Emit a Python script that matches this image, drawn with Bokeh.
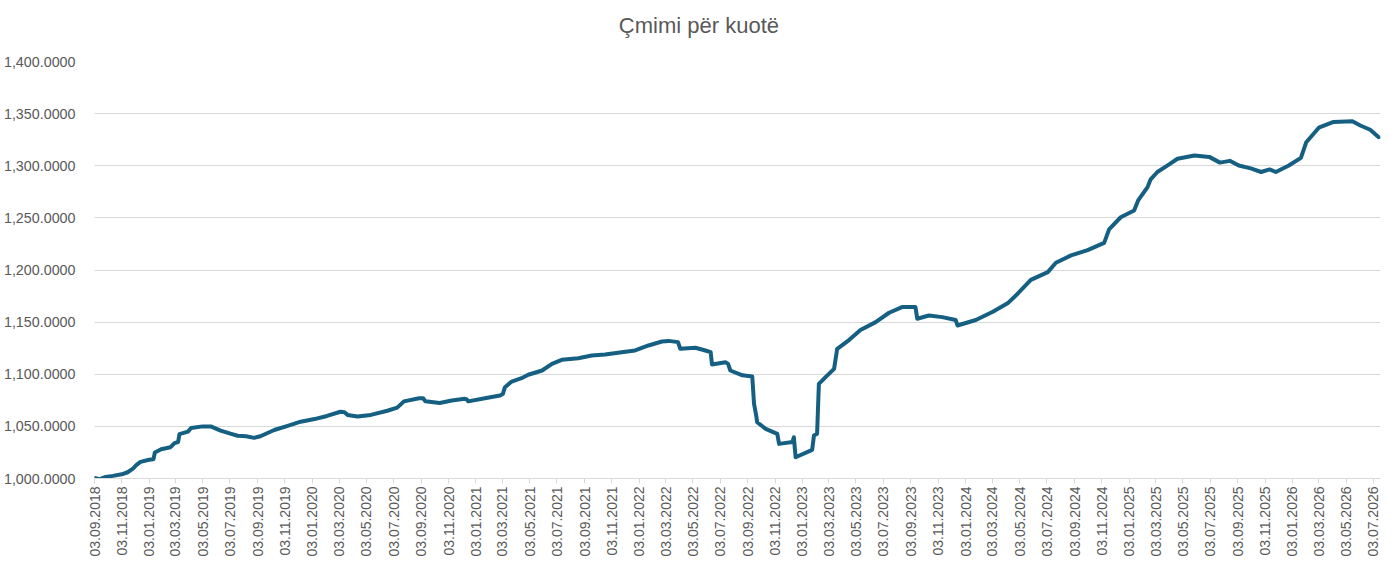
import pandas as pd
from math import pi
from bokeh.plotting import figure
from bokeh.layouts import column
from bokeh.models import FixedTicker, DatetimeTickFormatter, NumeralTickFormatter, Range1d, Label
from bokeh.embed import file_html
from bokeh.resources import INLINE

# ---- data ----
dates = [
    "2018-09-03", "2018-09-15", "2018-09-28", "2018-10-14", "2018-11-03", "2018-11-16",
    "2018-11-28", "2018-12-06", "2018-12-15", "2019-01-03", "2019-01-13", "2019-01-16",
    "2019-01-30", "2019-02-20", "2019-03-01", "2019-03-09", "2019-03-12", "2019-03-31",
    "2019-04-07", "2019-05-03", "2019-05-21", "2019-06-12", "2019-07-04", "2019-07-20",
    "2019-08-08", "2019-08-26", "2019-09-09", "2019-10-10", "2019-11-09", "2019-12-08",
    "2020-01-08", "2020-02-05", "2020-03-06", "2020-03-15", "2020-03-22", "2020-04-13",
    "2020-05-13", "2020-06-19", "2020-07-11", "2020-07-26", "2020-08-29", "2020-09-07",
    "2020-09-12", "2020-10-14", "2020-11-10", "2020-12-09", "2020-12-13", "2020-12-17",
    "2021-01-23", "2021-02-26", "2021-03-04", "2021-03-09", "2021-03-24", "2021-04-15",
    "2021-04-30", "2021-05-31", "2021-06-22", "2021-07-14", "2021-08-20", "2021-09-19",
    "2021-10-19", "2021-11-25", "2021-12-25", "2022-01-24", "2022-02-23", "2022-03-10",
    "2022-03-31", "2022-04-05", "2022-05-09", "2022-05-31", "2022-06-12", "2022-06-15",
    "2022-07-15", "2022-07-21", "2022-07-26", "2022-08-22", "2022-09-13", "2022-09-17",
    "2022-09-22", "2022-09-24", "2022-10-13", "2022-11-08", "2022-11-12", "2022-12-12",
    "2022-12-15", "2022-12-19", "2023-01-25", "2023-01-29", "2023-02-05", "2023-02-09",
    "2023-02-24", "2023-03-15", "2023-03-22", "2023-04-18", "2023-05-13", "2023-06-16",
    "2023-07-16", "2023-08-14", "2023-09-13", "2023-09-17", "2023-10-13", "2023-11-12",
    "2023-12-12", "2023-12-16", "2024-01-26", "2024-03-04", "2024-04-06", "2024-04-28",
    "2024-05-28", "2024-07-05", "2024-07-23", "2024-08-26", "2024-10-02", "2024-11-08",
    "2024-11-19", "2024-12-15", "2025-01-14", "2025-01-23", "2025-02-13", "2025-02-20",
    "2025-03-07", "2025-03-30", "2025-04-21", "2025-05-29", "2025-07-01", "2025-07-25",
    "2025-08-16", "2025-09-05", "2025-10-02", "2025-10-25", "2025-11-13", "2025-11-27",
    "2025-12-26", "2026-01-22", "2026-02-03", "2026-03-03", "2026-04-05", "2026-05-17",
    "2026-06-04", "2026-06-26", "2026-07-15",
]
prices = [
    1000.5, 999.3, 1001.5, 1002.5, 1004.0, 1006.0,
    1009.5, 1013.0, 1016.0, 1018.0, 1018.5, 1025.0,
    1028.0, 1030.0, 1034.0, 1035.0, 1042.5, 1045.0,
    1048.5, 1050.0, 1050.0, 1046.0, 1043.0, 1041.0,
    1040.5, 1039.0, 1040.5, 1046.5, 1050.5, 1054.5,
    1057.0, 1060.0, 1064.0, 1063.5, 1061.0, 1059.5,
    1061.0, 1065.0, 1068.0, 1074.0, 1077.0, 1077.0,
    1074.0, 1072.5, 1074.8, 1076.4, 1076.0, 1074.0,
    1077.0, 1079.6, 1081.0, 1087.6, 1093.0, 1096.2,
    1099.5, 1103.6, 1110.0, 1113.8, 1115.4, 1118.0,
    1119.0, 1121.2, 1122.8, 1127.6, 1131.4, 1132.0,
    1130.8, 1124.4, 1125.4, 1122.8, 1121.2, 1109.4,
    1111.6, 1110.0, 1103.6, 1099.0, 1097.8, 1071.6,
    1060.0, 1054.0, 1047.6, 1042.8, 1033.2, 1035.0,
    1039.6, 1020.4, 1027.5, 1041.2, 1042.9, 1090.8,
    1097.2, 1105.2, 1124.4, 1133.0, 1142.5, 1150.0,
    1159.0, 1164.4, 1164.4, 1153.2, 1156.4, 1154.8,
    1152.0, 1146.8, 1152.0, 1160.0, 1168.0, 1177.0,
    1190.5, 1198.0, 1207.0, 1214.0, 1219.0, 1226.0,
    1239.0, 1250.6, 1257.0, 1266.7, 1279.5, 1287.0,
    1294.0, 1300.3, 1306.7, 1309.8, 1308.5, 1303.0,
    1304.7, 1300.2, 1297.5, 1294.0, 1296.5, 1294.0,
    1300.2, 1307.5, 1322.6, 1336.5, 1342.0, 1342.7,
    1338.6, 1334.5, 1327.4,
]
x_tick_labels = [
    "03.09.2018", "03.11.2018", "03.01.2019", "03.03.2019", "03.05.2019", "03.07.2019",
    "03.09.2019", "03.11.2019", "03.01.2020", "03.03.2020", "03.05.2020", "03.07.2020",
    "03.09.2020", "03.11.2020", "03.01.2021", "03.03.2021", "03.05.2021", "03.07.2021",
    "03.09.2021", "03.11.2021", "03.01.2022", "03.03.2022", "03.05.2022", "03.07.2022",
    "03.09.2022", "03.11.2022", "03.01.2023", "03.03.2023", "03.05.2023", "03.07.2023",
    "03.09.2023", "03.11.2023", "03.01.2024", "03.03.2024", "03.05.2024", "03.07.2024",
    "03.09.2024", "03.11.2024", "03.01.2025", "03.03.2025", "03.05.2025", "03.07.2025",
    "03.09.2025", "03.11.2025", "03.01.2026", "03.03.2026", "03.05.2026", "03.07.2026",
]
y_ticks = [1000, 1050, 1100, 1150, 1200, 1250, 1300, 1350, 1400]
title_text = "Çmimi për kuotë"

# ---- styling ----
FONT = "Liberation Sans"
TXT = "#595959"
GRID = "#d9d9d9"

# ---- title strip (a bare figure holding the chart title) ----
t = figure(
    width=1400, height=40, x_range=Range1d(0, 1400), y_range=Range1d(0, 40),
    x_axis_location=None, y_axis_location=None,
    output_backend="svg", toolbar_location=None,
    min_border_left=0, min_border_right=0, min_border_top=0, min_border_bottom=0,
)
t.grid.visible = False
t.outline_line_color = None
t.add_layout(Label(
    x=658, y=15, text=title_text, text_align="center", text_baseline="middle",
    text_font=FONT, text_font_size="22px", text_color=TXT,
))

# ---- main chart ----
x = pd.to_datetime(dates)
x_ticks = [pd.to_datetime(s, format="%d.%m.%Y").value / 1e6 for s in x_tick_labels]

p = figure(
    width=1400, height=526,
    x_axis_type="datetime",
    x_range=Range1d(pd.Timestamp("2018-09-03"), pd.Timestamp("2026-07-19")),
    y_range=Range1d(1000, 1400),
    output_backend="svg", toolbar_location=None,
    min_border_left=92, min_border_right=20, min_border_top=21, min_border_bottom=88,
)

p.line(x, prices, line_color="#156082", line_width=4, line_join="round", line_cap="round")

fmt = "%d.%m.%Y"
p.xaxis.ticker = FixedTicker(ticks=x_ticks)
p.xaxis.formatter = DatetimeTickFormatter(
    milliseconds=fmt, seconds=fmt, minsec=fmt, minutes=fmt, hourmin=fmt, hours=fmt,
    days=fmt, months=fmt, years=fmt,
)
p.xaxis.major_label_orientation = pi / 2
p.xaxis.axis_line_color = GRID
p.xaxis.major_tick_line_color = GRID
p.xaxis.major_tick_in = 0
p.xaxis.major_tick_out = 5
p.xaxis.minor_tick_line_color = None
p.xaxis.major_label_text_font = FONT
p.xaxis.major_label_text_font_size = "14px"
p.xaxis.major_label_text_color = TXT
p.xaxis.major_label_standoff = 3

p.yaxis.ticker = FixedTicker(ticks=y_ticks)
p.yaxis.formatter = NumeralTickFormatter(format="0,0.0000")
p.yaxis.axis_line_color = None
p.yaxis.major_tick_line_color = None
p.yaxis.minor_tick_line_color = None
p.yaxis.major_label_text_font = FONT
p.yaxis.major_label_text_font_size = "14.3px"
p.yaxis.major_label_text_color = TXT
p.yaxis.major_label_standoff = 13

p.xgrid.grid_line_color = None
p.ygrid.grid_line_color = GRID
p.ygrid.grid_line_width = 1
p.outline_line_color = None
p.background_fill_color = "white"
p.border_fill_color = "white"

layout = column(t, p, spacing=0)
open("out.html", "w").write(file_html(layout, INLINE))
